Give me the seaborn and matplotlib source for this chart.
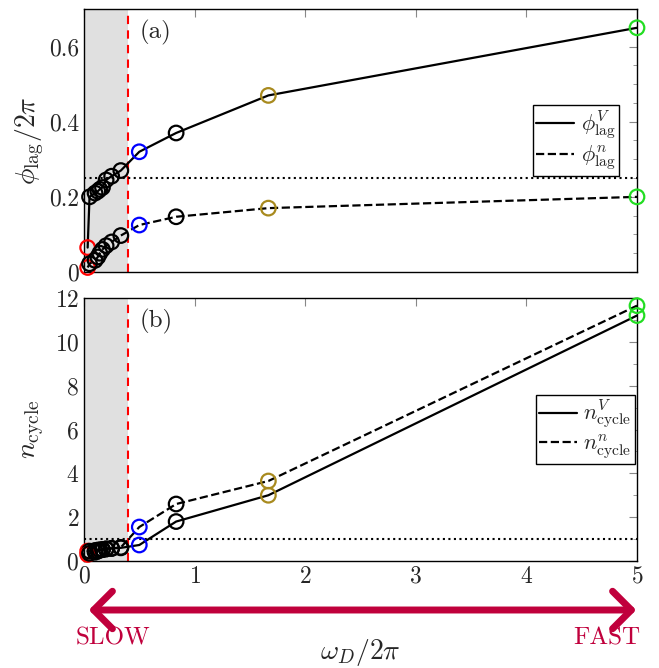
import numpy as np
import pandas as pd
import matplotlib
matplotlib.use("Agg")
import matplotlib.pyplot as plt
import seaborn as sns
from matplotlib.ticker import MultipleLocator

# ---- data ----
omega = [0.033, 0.05, 0.1, 0.125, 0.143, 0.167, 0.2, 0.25, 0.333, 0.5, 0.833, 1.667, 5.0]
phi_V = [0.065, 0.20, 0.21, 0.215, 0.22, 0.225, 0.245, 0.255, 0.27, 0.32, 0.37, 0.47, 0.65]
phi_n = [0.012, 0.022, 0.031, 0.040, 0.050, 0.060, 0.070, 0.080, 0.097, 0.125, 0.147, 0.170, 0.200]
n_V = [0.45, 0.45, 0.48, 0.50, 0.50, 0.52, 0.55, 0.57, 0.60, 0.73, 1.80, 3.00, 11.20]
n_n = [0.30, 0.35, 0.40, 0.45, 0.50, 0.52, 0.55, 0.58, 0.62, 1.55, 2.60, 3.65, 11.65]
pt_colors = ['red'] + ['black'] * 8 + ['blue', 'black', '#A88A1E', '#22DD22']

df = pd.DataFrame({'omega': omega, 'phi_V': phi_V, 'phi_n': phi_n, 'n_V': n_V, 'n_n': n_n})

sns.set_style("white")
plt.rcParams['font.family'] = 'serif'
plt.rcParams['font.serif'] = ['cmr10']
plt.rcParams['mathtext.fontset'] = 'cm'
plt.rcParams['axes.formatter.use_mathtext'] = True

W, H = 659, 668
fig = plt.figure(figsize=(W / 100, H / 100), dpi=100)
L, R = 84 / W, 637 / W
axa = fig.add_axes([L, 1 - 272 / H, R - L, (272 - 9) / H])
axb = fig.add_axes([L, 1 - 561 / H, R - L, (561 - 298) / H])

crimson = '#C0003C'

def panel(ax, ycols, labels, ylim, hline, major, minor, anchor):
    ax.axvspan(0, 0.4, color='#E0E0E0', zorder=0, lw=0)
    ax.axvline(0.4, color='red', ls=(0, (4, 3)), lw=1.5, zorder=1)
    ax.axhline(hline, color='black', ls=':', lw=1.5, zorder=1)
    styles = ['-', '--']
    for col, lab, st in zip(ycols, labels, styles):
        sns.lineplot(data=df, x='omega', y=col, ax=ax, color='black', lw=1.6,
                     linestyle=st, label=lab, zorder=2, sort=False)
        ax.scatter(df['omega'], df[col], s=110, facecolors='none',
                   edgecolors=pt_colors, linewidths=1.6, zorder=3, clip_on=False)
    ax.set_xlim(0, 5)
    ax.set_ylim(*ylim)
    ax.yaxis.set_major_locator(MultipleLocator(major))
    ax.yaxis.set_minor_locator(MultipleLocator(minor))
    ax.xaxis.set_major_locator(MultipleLocator(1))
    ax.tick_params(which='both', direction='in', top=True, right=True,
                   color='#888888', labelsize=17)
    ax.tick_params(which='major', length=6)
    ax.tick_params(which='minor', length=3)
    for s in ax.spines.values():
        s.set_color('black')
        s.set_linewidth(1.0)
    ax.set_xlabel('')
    leg = ax.legend(loc='center right', bbox_to_anchor=anchor,
                    fontsize=16, frameon=True, fancybox=False, edgecolor='black',
                    handlelength=1.7, borderpad=0.15, labelspacing=0.05,
                    handletextpad=0.3, borderaxespad=0.0)
    leg.get_frame().set_linewidth(1.0)
    leg.get_frame().set_alpha(1)

panel(axa, ['phi_V', 'phi_n'], [r'$\phi_{\rm lag}^{V}$', r'$\phi_{\rm lag}^{n}$'],
      (0, 0.7), 0.25, 0.2, 0.05, (0.967, 0.5))
panel(axb, ['n_V', 'n_n'], [r'$n_{\rm cycle}^{V}$', r'$n_{\rm cycle}^{n}$'],
      (0, 12), 1.0, 2, 1, (0.996, 0.5))

axa.set_xticklabels([])
axa.set_yticks([0, 0.2, 0.4, 0.6])
axa.set_yticklabels(['0', '0.2', '0.4', '0.6'])
axa.set_ylabel(r'$\phi_{\rm lag}/2\pi$', fontsize=20, labelpad=2)
axb.set_ylabel(r'$n_{\rm cycle}$', fontsize=20, labelpad=6)
axa.text(0.10, 0.96, '(a)', transform=axa.transAxes, fontsize=18, va='top')
axb.text(0.10, 0.96, '(b)', transform=axb.transAxes, fontsize=18, va='top')

# arrow SLOW <-> FAST
ya = 1 - 610 / H
fig.add_artist(matplotlib.patches.FancyArrowPatch(
    (86 / W, ya), (639 / W, ya), transform=fig.transFigure,
    arrowstyle=matplotlib.patches.ArrowStyle('<->', head_length=0.9, head_width=0.9),
    color=crimson, lw=5, mutation_scale=15, capstyle='round', joinstyle='round'))
fig.text(113 / W, 1 - 638 / H, 'SLOW', color=crimson, fontsize=18, ha='center', va='center')
fig.text(607 / W, 1 - 638 / H, 'FAST', color=crimson, fontsize=18, ha='center', va='center')
fig.text(360 / W, 1 - 652 / H, r'$\omega_D/2\pi$', fontsize=20, ha='center', va='center')

fig.savefig('out.png', dpi=100)
